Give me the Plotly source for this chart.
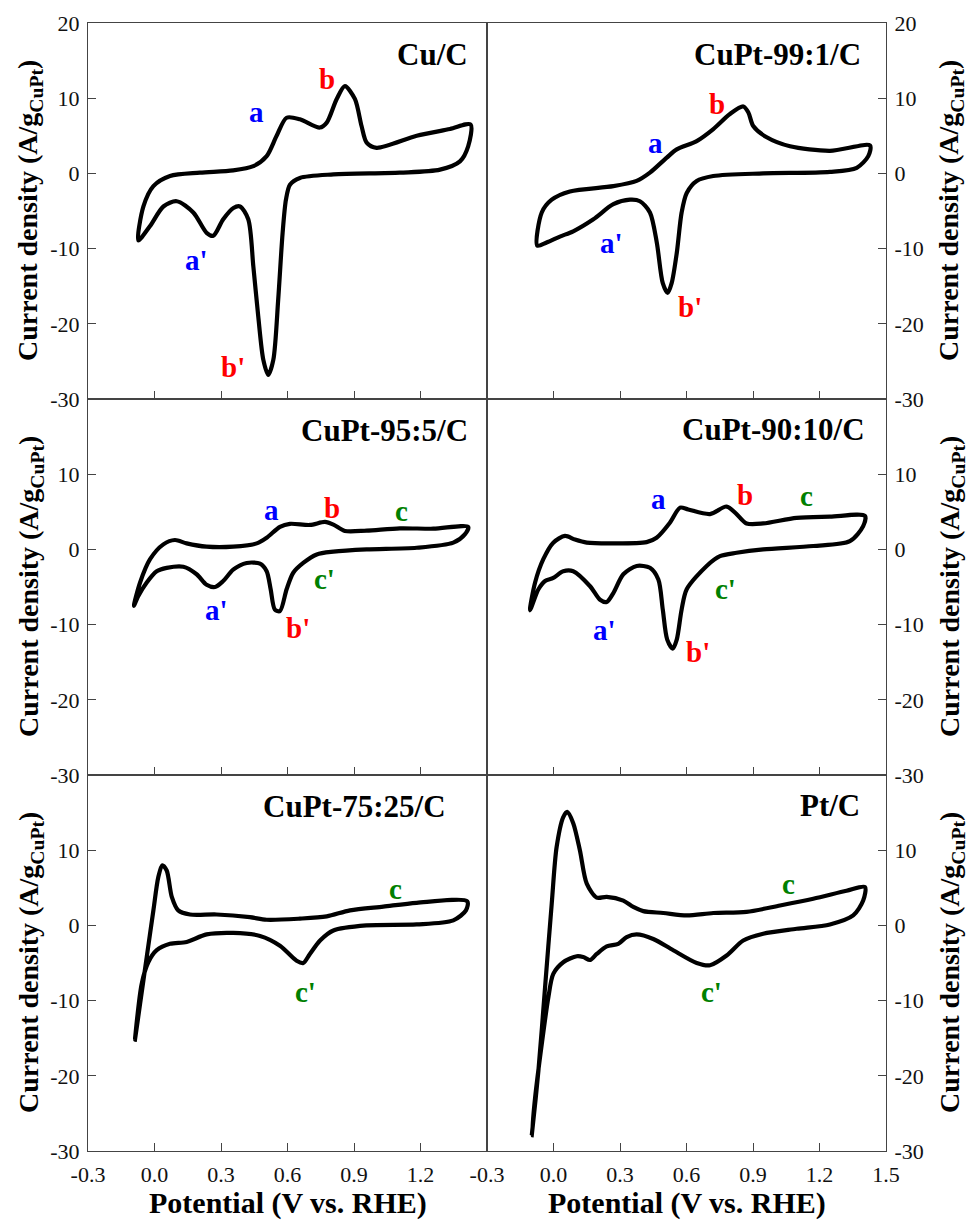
import plotly.graph_objects as go
from plotly.subplots import make_subplots

# ---------------- data (potential V vs RHE, current density A/g) ----------------
# Cu/C
cu_up_x = [-0.073, -0.05, -0.005, 0.07, 0.205, 0.355, 0.446, 0.506, 0.551, 0.596, 0.656, 0.746, 0.777, 0.822, 0.859, 0.904, 0.934, 0.957, 1.002, 1.183, 1.333, 1.426]
cu_up_y = [-8.9, -4.4, -1.7, -0.35, 0.1, 0.4, 0.97, 2.3, 5.0, 7.4, 7.2, 6.1, 6.75, 9.9, 11.6, 9.9, 6.3, 4.1, 3.4, 5.0, 5.9, 6.5]
cu_dn_x = [1.415, 1.378, 1.288, 1.107, 0.807, 0.656, 0.611, 0.593, 0.578, 0.558, 0.536, 0.513, 0.491, 0.468, 0.446, 0.423, 0.386, 0.356, 0.310, 0.265, 0.235, 0.175, 0.10, 0.04, -0.02, -0.073]
cu_dn_y = [3.6, 1.6, 0.5, 0.1, -0.13, -0.6, -1.5, -3.5, -7.9, -16.8, -24.8, -26.8, -24.8, -19.0, -12.4, -6.1, -4.4, -4.6, -6.1, -8.3, -7.9, -5.2, -3.7, -4.4, -7.0, -8.9]

# CuPt-99:1/C
p99_up_x = [-0.073, -0.053, -0.008, 0.074, 0.27, 0.375, 0.435, 0.511, 0.556, 0.646, 0.721, 0.796, 0.856, 0.879, 0.901, 0.962, 1.067, 1.247, 1.428]
p99_up_y = [-9.6, -5.2, -3.5, -2.4, -1.7, -1.0, 0.1, 2.1, 3.2, 4.3, 5.9, 7.9, 8.9, 8.1, 6.3, 4.8, 3.6, 3.0, 3.7]
p99_dn_x = [1.42, 1.368, 1.247, 0.946, 0.721, 0.646, 0.601, 0.578, 0.556, 0.533, 0.515, 0.493, 0.466, 0.435, 0.39, 0.345, 0.27, 0.18, 0.089, 0.029, -0.031, -0.073]
p99_dn_y = [2.3, 0.75, 0.2, 0.0, -0.35, -1.0, -2.6, -5.2, -10.6, -14.6, -15.9, -14.6, -9.2, -5.2, -3.7, -3.5, -4.1, -6.1, -7.7, -8.4, -9.2, -9.6]

# CuPt-95:5/C
p95_up_x = [-0.093, -0.065, -0.02, 0.04, 0.092, 0.145, 0.235, 0.355, 0.461, 0.506, 0.566, 0.611, 0.701, 0.769, 0.807, 0.859, 0.957, 1.107, 1.258, 1.415]
p95_up_y = [-7.5, -4.4, -1.3, 0.67, 1.25, 0.8, 0.36, 0.36, 0.8, 1.55, 3.0, 3.4, 3.25, 3.65, 3.3, 2.45, 2.5, 2.8, 2.75, 3.0]
p95_dn_x = [1.4, 1.348, 1.183, 0.957, 0.807, 0.732, 0.671, 0.626, 0.596, 0.566, 0.543, 0.524, 0.506, 0.476, 0.416, 0.355, 0.31, 0.273, 0.235, 0.19, 0.13, 0.055, 0.01, -0.035, -0.073, -0.093]
p95_dn_y = [2.0, 0.9, 0.22, 0.0, -0.3, -0.67, -1.8, -3.1, -5.3, -8.2, -8.0, -5.3, -2.9, -1.9, -1.8, -2.7, -4.2, -5.0, -4.7, -3.3, -2.3, -2.45, -2.9, -4.4, -6.2, -7.5]

# CuPt-90:10/C
p90_up_x = [-0.106, -0.083, -0.046, -0.001, 0.052, 0.097, 0.15, 0.27, 0.42, 0.465, 0.525, 0.571, 0.608, 0.706, 0.781, 0.826, 0.871, 0.946, 1.097, 1.247, 1.405]
p90_up_y = [-8.1, -4.4, -1.3, 0.9, 1.8, 1.3, 0.9, 0.8, 0.97, 1.55, 3.55, 5.55, 5.3, 4.7, 5.7, 4.7, 3.45, 3.45, 4.2, 4.35, 4.45]
p90_dn_x = [1.397, 1.337, 1.172, 0.946, 0.826, 0.751, 0.691, 0.601, 0.578, 0.556, 0.538, 0.513, 0.493, 0.473, 0.435, 0.375, 0.315, 0.27, 0.24, 0.21, 0.165, 0.089, 0.044, -0.001, -0.038, -0.068, -0.106]
p90_dn_y = [3.1, 1.1, 0.45, 0.0, -0.45, -0.9, -2.2, -5.3, -8.0, -12.0, -13.2, -12.0, -8.0, -4.0, -2.45, -2.2, -3.3, -5.8, -7.0, -6.7, -4.9, -2.9, -2.9, -3.8, -4.2, -5.3, -8.1]

# CuPt-75:25/C
p75_up_x = [-0.088, -0.065, -0.035, -0.005, 0.017, 0.035, 0.055, 0.078, 0.107, 0.16, 0.28, 0.43, 0.506, 0.656, 0.777, 0.882, 1.032, 1.183, 1.411]
p75_up_y = [-15.2, -10.4, -4.2, 2.0, 6.4, 8.0, 7.3, 3.8, 2.0, 1.45, 1.45, 1.1, 0.75, 0.9, 1.2, 2.0, 2.5, 3.0, 3.2]
p75_dn_x = [1.405, 1.348, 1.183, 0.957, 0.807, 0.747, 0.701, 0.671, 0.641, 0.566, 0.476, 0.355, 0.235, 0.145, 0.07, 0.01, -0.028, -0.058, -0.088]
p75_dn_y = [2.0, 0.67, 0.13, 0.0, -0.67, -2.0, -3.8, -5.0, -4.7, -2.7, -1.4, -1.0, -1.2, -2.2, -2.45, -3.3, -4.9, -7.8, -15.2]

# Pt/C
pt_up_x = [-0.098, -0.068, -0.038, -0.008, 0.014, 0.044, 0.062, 0.089, 0.119, 0.15, 0.195, 0.24, 0.315, 0.36, 0.405, 0.495, 0.601, 0.721, 0.871, 1.022, 1.172, 1.322, 1.405]
pt_up_y = [-27.9, -19.3, -8.2, 2.9, 10.4, 14.4, 15.1, 13.6, 10.0, 5.55, 3.7, 3.8, 3.3, 2.45, 1.9, 1.65, 1.33, 1.65, 1.8, 2.65, 3.55, 4.6, 5.1]
pt_dn_x = [1.397, 1.352, 1.247, 1.097, 0.946, 0.856, 0.781, 0.706, 0.646, 0.54, 0.45, 0.375, 0.33, 0.292, 0.24, 0.195, 0.165, 0.134, 0.105, 0.044, -0.001, -0.023, -0.053, -0.083, -0.098]
pt_dn_y = [3.3, 1.33, 0.13, -0.45, -1.1, -2.0, -4.0, -5.3, -5.0, -3.3, -1.8, -1.2, -1.55, -2.45, -2.8, -3.8, -4.6, -4.2, -4.1, -4.9, -6.45, -9.55, -15.8, -22.9, -27.9]

panel_names = ["Cu/C", "CuPt-99:1/C", "CuPt-95:5/C", "CuPt-90:10/C", "CuPt-75:25/C", "Pt/C"]

# peak labels: (text, x, y, colour)
peak_labels = [
    [("a", 0.458, 8.1, "blue"), ("b", 0.777, 12.5, "red"), ("a'", 0.19, -11.5, "blue"), ("b'", 0.355, -25.7, "red")],
    [("a", 0.458, 4.1, "blue"), ("b", 0.736, 9.2, "red"), ("a'", 0.262, -9.2, "blue"), ("b'", 0.616, -17.7, "red")],
    [("a", 0.529, 5.3, "blue"), ("b", 0.799, 5.55, "red"), ("c", 1.115, 5.1, "green"),
     ("a'", 0.28, -8.0, "blue"), ("b'", 0.649, -10.4, "red"), ("c'", 0.769, -4.0, "green")],
    [("a", 0.473, 6.7, "blue"), ("b", 0.864, 7.3, "red"), ("c", 1.142, 7.1, "green"),
     ("a'", 0.232, -10.7, "blue"), ("b'", 0.653, -13.6, "red"), ("c'", 0.774, -5.3, "green")],
    [("c", 1.085, 4.9, "green"), ("c'", 0.679, -8.9, "green")],
    [("c", 1.059, 5.55, "green"), ("c'", 0.714, -8.9, "green")],
]
title_pos = [(0.957, 0.915), (0.943, 0.915), (0.957, 0.915), (0.952, 0.918), (0.903, 0.916), (0.939, 0.918)]

x_ticks = [-0.3, 0.0, 0.3, 0.6, 0.9, 1.2, 1.5]
x_ticktext = ["-0.3", "0.0", "0.3", "0.6", "0.9", "1.2", "1.5"]
y_ticks = [-30, -20, -10, 0, 10, 20]
y_ticktext = ["-30", "-20", "-10", "0", "10", "20"]

curves = [
    (cu_up_x, cu_up_y, cu_dn_x, cu_dn_y),
    (p99_up_x, p99_up_y, p99_dn_x, p99_dn_y),
    (p95_up_x, p95_up_y, p95_dn_x, p95_dn_y),
    (p90_up_x, p90_up_y, p90_dn_x, p90_dn_y),
    (p75_up_x, p75_up_y, p75_dn_x, p75_dn_y),
    (pt_up_x, pt_up_y, pt_dn_x, pt_dn_y),
]

FONT = "Liberation Serif"
AXC = "#444444"
W, H = 971, 1221
ML, MR, MT, MB = 88, 85, 23, 70

fig = make_subplots(rows=3, cols=2, horizontal_spacing=0, vertical_spacing=0)

for i, (ux, uy, dx, dy) in enumerate(curves):
    r, c = i // 2 + 1, i % 2 + 1
    fig.add_trace(go.Scatter(x=ux + dx, y=uy + dy, mode="lines",
                             line=dict(color="black", width=4.2, shape="spline", smoothing=0.8),
                             showlegend=False, hoverinfo="skip"), row=r, col=c)
    # bottom-left panel: the shared 1.5 label belongs to the right panel's -0.3
    if r == 3 and c == 1:
        xv, xt = x_ticks[:-1], x_ticktext[:-1]
    else:
        xv, xt = x_ticks, x_ticktext
    fig.update_xaxes(range=[-0.3, 1.5], tickvals=xv, ticktext=xt, showticklabels=(r == 3),
                     ticks="inside", ticklen=8, tickwidth=1.3, tickcolor=AXC,
                     showline=True, linecolor=AXC, linewidth=1.2, mirror=True,
                     showgrid=False, zeroline=False,
                     tickfont=dict(family=FONT, size=22, color="#111"),
                     ticklabelstandoff=3,
                     row=r, col=c)
    # lower rows: the shared top label belongs to the -30 of the panel above
    if r == 1:
        yv, yt = y_ticks, y_ticktext
    else:
        yv, yt = y_ticks[:-1], y_ticktext[:-1]
    fig.update_yaxes(range=[-30, 20], tickvals=yv, ticktext=yt,
                     side="left" if c == 1 else "right",
                     ticks="inside", ticklen=8, tickwidth=1.3, tickcolor=AXC,
                     showline=True, linecolor=AXC, linewidth=1.2, mirror=True,
                     showgrid=False, zeroline=False,
                     tickfont=dict(family=FONT, size=22, color="#111"),
                     ticklabelstandoff=3,
                     row=r, col=c)

    suffix = "" if i == 0 else str(i + 1)
    tx, ty = title_pos[i]
    fig.add_annotation(text="<b>%s</b>" % panel_names[i], xref="x%s domain" % suffix, yref="y%s domain" % suffix,
                       x=tx, y=ty, xanchor="right", yanchor="middle", showarrow=False,
                       font=dict(family=FONT, size=31, color="black"))
    for (t, lx, ly, col) in peak_labels[i]:
        fig.add_annotation(text="<b>%s</b>" % t, xref="x%s" % suffix, yref="y%s" % suffix,
                           x=lx, y=ly, showarrow=False, xanchor="center", yanchor="middle",
                           font=dict(family=FONT, size=29, color=col))


def px_to_paper_x(px):
    return (px - ML) / (W - ML - MR)


def px_to_paper_y(py):
    return (H - MB - py) / (H - MT - MB)


# y-axis titles
ytitle = "<b>Current density (A/g<sub>CuPt</sub>)</b>"
for yc in [211, 587, 963]:
    for xc in [30, 951]:
        fig.add_annotation(text=ytitle, xref="paper", yref="paper",
                           x=px_to_paper_x(xc), y=px_to_paper_y(yc),
                           textangle=-90, showarrow=False, xanchor="center", yanchor="middle",
                           font=dict(family=FONT, size=28, color="black"))

# x-axis titles
for xc in [287.5, 686.5]:
    fig.add_annotation(text="<b>Potential (V vs. RHE)</b>", xref="paper", yref="paper",
                       x=px_to_paper_x(xc), y=px_to_paper_y(1203),
                       showarrow=False, xanchor="center", yanchor="middle",
                       font=dict(family=FONT, size=30, color="black"))

fig.update_layout(width=W, height=H, margin=dict(l=ML, r=MR, t=MT, b=MB),
                  plot_bgcolor="white", paper_bgcolor="white",
                  font=dict(family=FONT, color="black"))

fig.write_html("out.html", config={"displayModeBar": False},
               post_script="document.body.style.margin='0';document.body.style.overflow='hidden';"
                           "document.documentElement.style.overflow='hidden';")
